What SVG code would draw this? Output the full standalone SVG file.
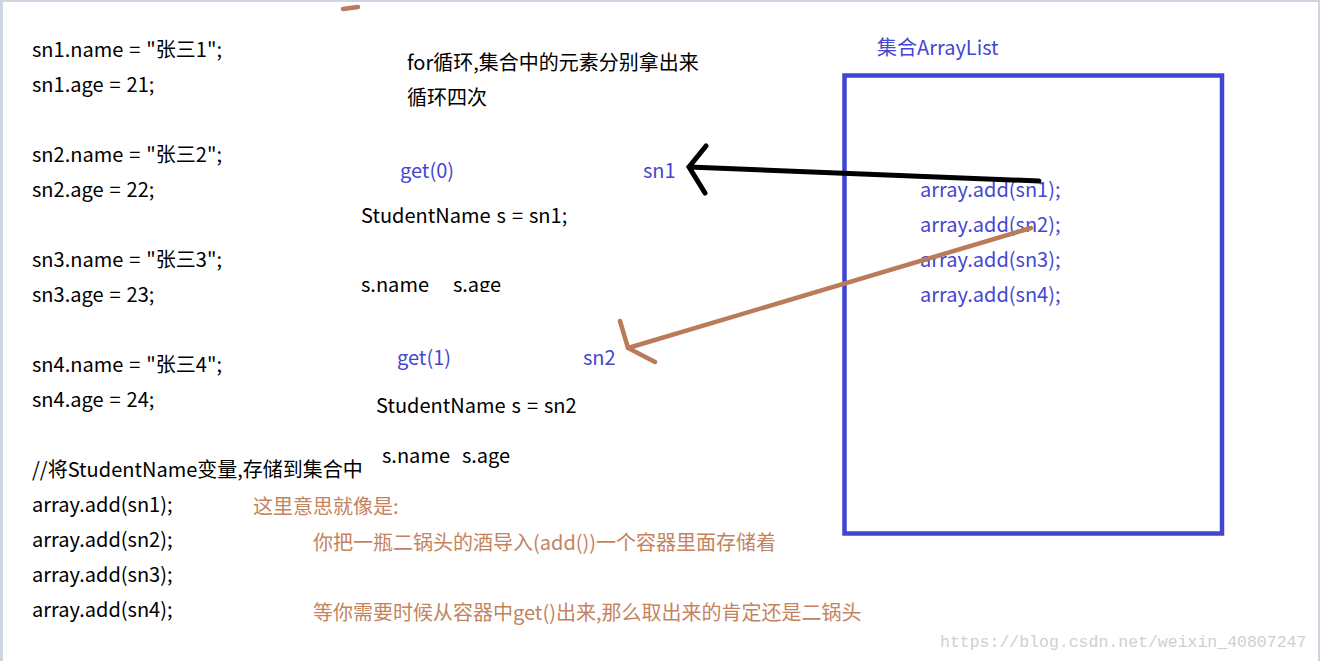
<svg xmlns="http://www.w3.org/2000/svg" width="1320" height="661" viewBox="0 0 1320 661">
<style>
  text { font-family: "Noto Sans CJK SC", "Liberation Sans", sans-serif; font-size: 20px; word-spacing: 1.5px; }
  .k { fill: #000000; }
  .b { fill: #4646d2; }
  .r { fill: #c4835e; }
  .wm { font-family: "Liberation Mono", monospace; font-size: 16.5px; fill: #cfcfcf; word-spacing: 0; }
  .blk { stroke: #000; stroke-width: 5; stroke-linecap: round; fill: none; }
  .brn { stroke: #b97b5a; stroke-width: 4.5; stroke-linecap: round; fill: none; }
</style>
<defs>
  <clipPath id="cut"><rect x="350" y="270" width="200" height="22"/></clipPath>
</defs>
<rect x="0" y="0" width="1320" height="661" fill="#ffffff"/>
<rect x="0" y="0" width="1320" height="2" fill="#cdd5e3"/>
<rect x="0" y="0" width="3" height="661" fill="#cdd5e3"/>
<rect x="1318" y="0" width="2" height="661" fill="#cdd5e3"/>

<g id="code-left" class="k">
  <text x="32" y="57">sn1.name = "张三1";</text>
  <text x="32" y="92">sn1.age = 21;</text>
  <text x="32" y="162">sn2.name = "张三2";</text>
  <text x="32" y="197">sn2.age = 22;</text>
  <text x="32" y="267">sn3.name = "张三3";</text>
  <text x="32" y="302">sn3.age = 23;</text>
  <text x="32" y="372">sn4.name = "张三4";</text>
  <text x="32" y="407">sn4.age = 24;</text>
  <text x="32" y="477">//将StudentName变量,存储到集合中</text>
  <text x="32" y="512">array.add(sn1);</text>
  <text x="32" y="547">array.add(sn2);</text>
  <text x="32" y="582">array.add(sn3);</text>
  <text x="32" y="617">array.add(sn4);</text>
</g>

<g id="loop-note" class="k">
  <text x="407" y="70">for循环,集合中的元素分别拿出来</text>
  <text x="407" y="105">循环四次</text>
</g>

<g id="get0">
  <text class="b" x="400" y="178">get(0)</text>
  <text class="b" x="643" y="178">sn1</text>
  <text class="k" x="361" y="223">StudentName s = sn1;</text>
  <text class="k" x="361" y="292" clip-path="url(#cut)" xml:space="preserve">s.name    s.age</text>
</g>

<g id="get1">
  <text class="b" x="397" y="365">get(1)</text>
  <text class="b" x="583" y="365">sn2</text>
  <text class="k" x="376" y="413">StudentName s = sn2</text>
  <text class="k" x="382" y="463" xml:space="preserve">s.name  s.age</text>
</g>

<g id="analogy" class="r">
  <text x="253" y="514">这里意思就像是:</text>
  <text x="313" y="550">你把一瓶二锅头的酒导入(add())一个容器里面存储着</text>
  <text x="313" y="620">等你需要时候从容器中get()出来,那么取出来的肯定还是二锅头</text>
</g>

<g id="arraylist">
  <text class="b" x="877" y="55">集合ArrayList</text>
  <rect x="844.5" y="75.5" width="377.5" height="458" fill="none" stroke="#4146d0" stroke-width="4.5"/>
  <text class="b" x="920" y="197">array.add(sn1);</text>
  <text class="b" x="920" y="232">array.add(sn2);</text>
  <text class="b" x="920" y="267">array.add(sn3);</text>
  <text class="b" x="920" y="302">array.add(sn4);</text>
</g>

<g id="connectors">
  <path class="blk" d="M1039 181 L689 167 M706 146 L689 167 L705 193"/>
  <path class="brn" d="M1031 228 L628 348 M620 321 L628 348 L655 362"/>
  <path class="brn" d="M343 9 L358 7"/>
</g>

<g id="watermark">
  <text class="wm" x="940" y="647">https://blog.csdn.net/weixin_40807247</text>
</g>
</svg>
